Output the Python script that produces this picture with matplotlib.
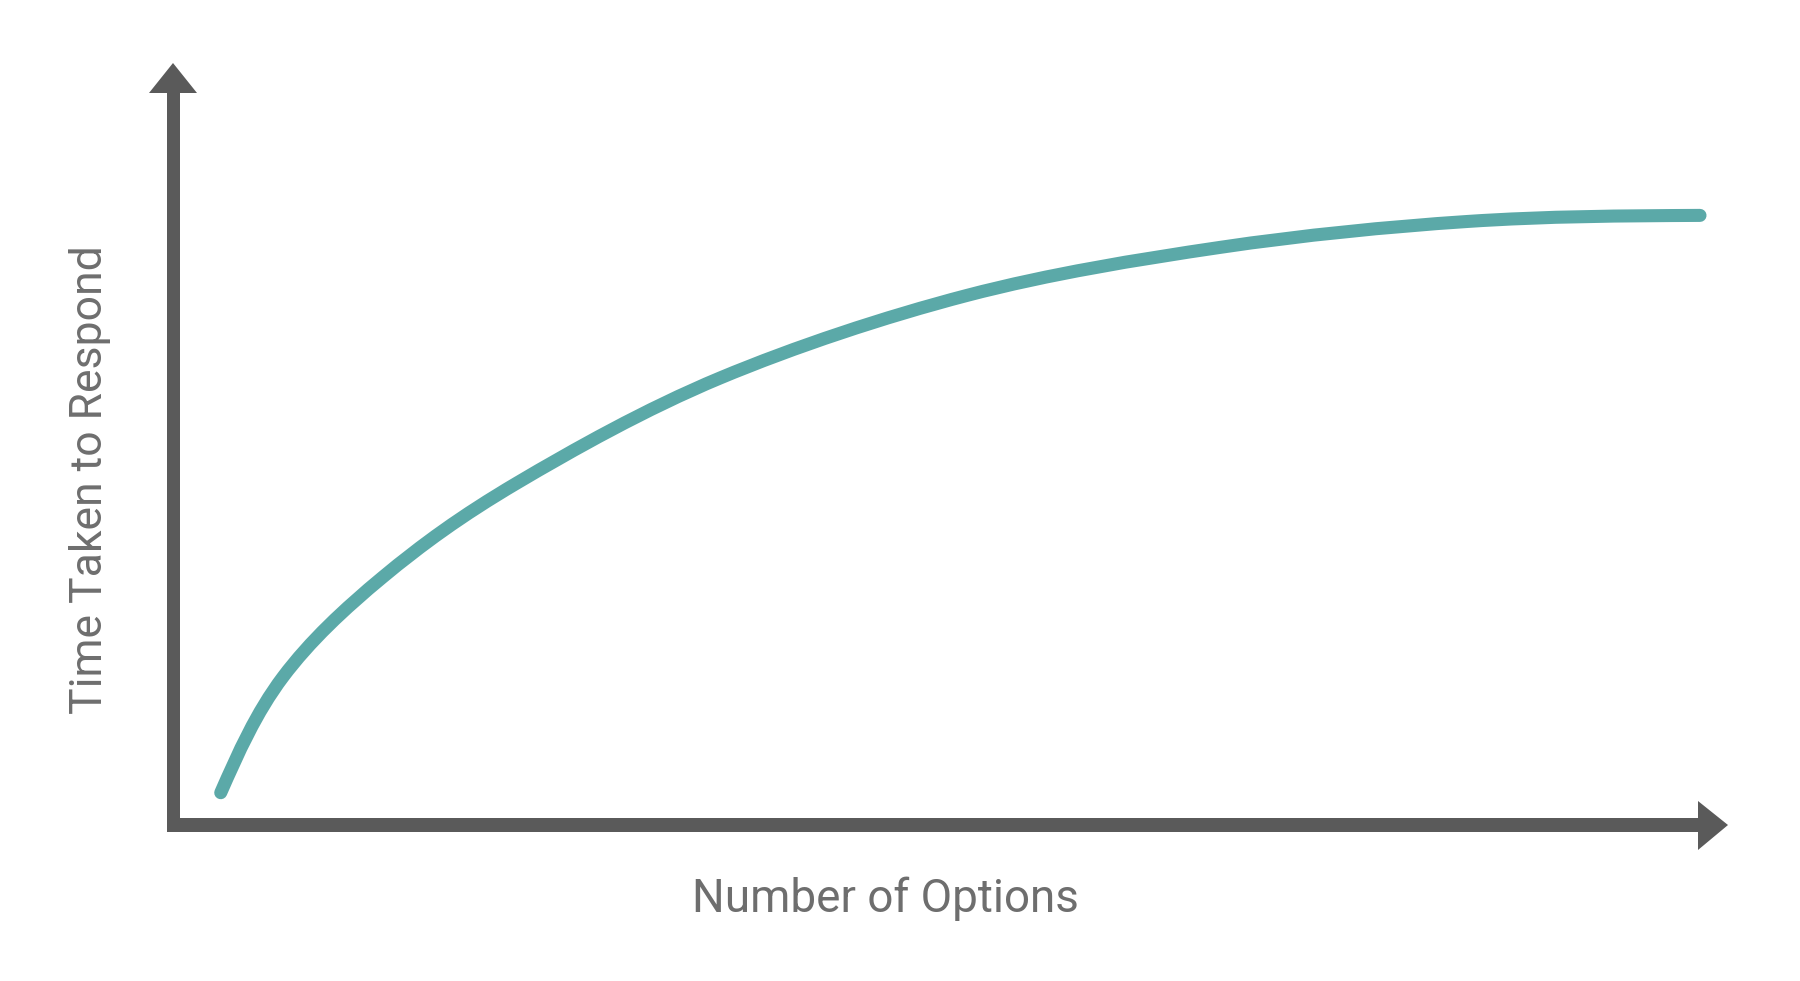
import matplotlib.pyplot as plt
from matplotlib.patches import Polygon, PathPatch
from matplotlib.path import Path

# curve (arbitrary units, 0-100 on both axes)
options = [3.07, 7.07, 13.50, 22.12, 35.18, 51.06, 67.33, 83.22, 98.20]
response_time = [4.24, 19.42, 32.55, 44.88, 58.66, 69.5, 75.8, 79.2, 80.0]

x_label = "Number of Options"
y_label = "Time Taken to Respond"

W, H = 1800, 981
axis_color = "#5a5a5a"
line_color = "#5ba9a8"
text_color = "#6e6e6e"

fig = plt.figure(figsize=(W / 100, H / 100), dpi=100)

def fx(px):
    return px / W

def fy(py):
    return (H - py) / H

# axes box goes from the y axis line to the arrow tips
ax = fig.add_axes([fx(173), fy(825), fx(1728) - fx(173), fy(63) - fy(825)])
ax.set_xlim(0, 100)
ax.set_ylim(0, 100)
ax.axis("off")

# smooth curve through the points (catmull-rom turned into bezier segments)
pts = list(zip(options, response_time))
n = len(pts)
verts = [pts[0]]
codes = [Path.MOVETO]
for i in range(n - 1):
    p0 = pts[max(i - 1, 0)]
    p1 = pts[i]
    p2 = pts[i + 1]
    p3 = pts[min(i + 2, n - 1)]
    c1 = (p1[0] + (p2[0] - p0[0]) / 6, p1[1] + (p2[1] - p0[1]) / 6)
    c2 = (p2[0] - (p3[0] - p1[0]) / 6, p2[1] - (p3[1] - p1[1]) / 6)
    # natural ends: no bend at the first and last point
    if i == 0:
        c1 = ((p1[0] + c2[0]) / 2, (p1[1] + c2[1]) / 2)
    if i == n - 2:
        c2 = ((p2[0] + c1[0]) / 2, (p2[1] + c1[1]) / 2)
    verts += [c1, c2, p2]
    codes += [Path.CURVE4] * 3
curve = PathPatch(Path(verts, codes), facecolor="none", edgecolor=line_color,
                  lw=9.4, capstyle="round", joinstyle="round")
ax.add_patch(curve)

# axis shafts and arrow heads, in pixel coords
def pix_poly(points):
    return Polygon([(fx(x), fy(y)) for x, y in points], closed=True,
                   transform=fig.transFigure, facecolor=axis_color,
                   edgecolor="none")

# y axis
fig.patches.append(pix_poly([(167, 90), (180, 90), (180, 832), (167, 832)]))
fig.patches.append(pix_poly([(149, 93), (197, 93), (173, 63)]))
# x axis
fig.patches.append(pix_poly([(167, 818), (1701, 818), (1701, 832), (167, 832)]))
fig.patches.append(pix_poly([(1698, 801), (1698, 850), (1728, 825)]))

fig.text(fx(885), fy(899), x_label, ha="center", va="center",
         fontsize=33, color=text_color, family=["Roboto", "DejaVu Sans"])
fig.text(fx(90), fy(480), y_label, ha="center", va="center", rotation=90,
         fontsize=32, color=text_color, family=["Roboto", "DejaVu Sans"])

fig.savefig("out.png", dpi=100, facecolor="white")
